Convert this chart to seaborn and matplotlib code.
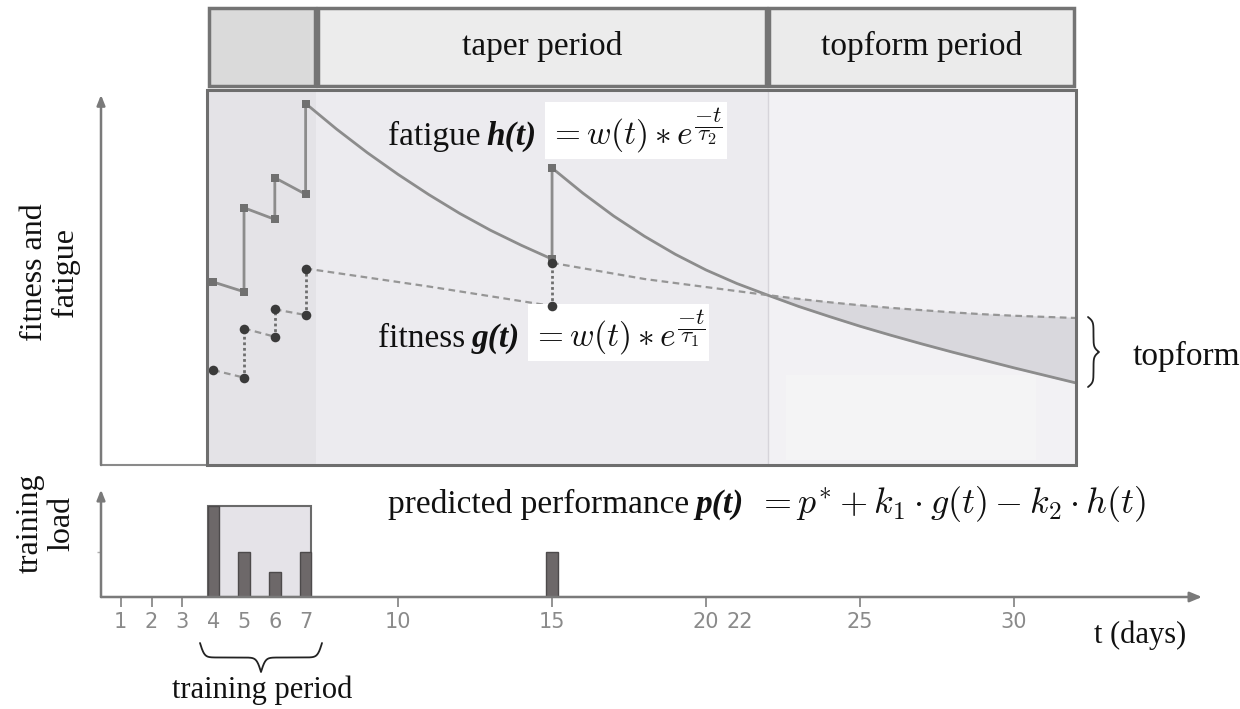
import numpy as np
import pandas as pd
import matplotlib
matplotlib.use("Agg")
import matplotlib.pyplot as plt
from matplotlib.patches import Rectangle
from matplotlib.lines import Line2D
import seaborn as sns

sns.set_theme(style="white")
plt.rcParams["font.family"] = ["Liberation Serif", "DejaVu Serif"]
plt.rcParams["mathtext.fontset"] = "cm"

# training load (relative units) per training day
load_day = [4, 5, 6, 7, 15]
load_val = [1.0, 0.49, 0.27, 0.49, 0.49]

# fatigue h(t): value before/after each load, decay in between
fatigue_day = [4, 5, 5, 6, 6, 7, 7, 8, 9, 10, 11, 12, 13, 14, 15, 15,
               16, 17, 18, 19, 20, 21, 22, 23, 24, 25, 26, 27, 28, 29, 30, 31, 32]
fatigue_val = [48.8, 46.2, 68.6, 65.5, 76.6, 72.2, 96.4, 89.6, 83.3, 77.5, 72.1, 67.1,
               62.6, 58.6, 54.9, 79.2, 72.5, 66.4, 61.0, 56.2, 52.0, 48.4, 45.3, 42.3,
               39.6, 37.0, 34.6, 32.3, 30.1, 28.0, 25.9, 23.9, 21.9]

# fitness g(t)
fitness_day = [4, 5, 5, 6, 6, 7, 7, 11, 15, 15, 18, 22, 23, 24, 25, 26, 27, 28, 29, 30, 31, 32]
fitness_val = [25.3, 23.3, 36.4, 34.2, 41.5, 40.0, 52.4, 47.6, 42.4, 53.9, 49.6, 45.3,
               44.3, 43.4, 42.6, 41.9, 41.3, 40.7, 40.2, 39.8, 39.5, 39.2]

# period boundaries (days): training | taper | topform
period_edges = [3.8, 7.35, 22.0, 32.0]
period_names = ["", "taper period", "topform period"]

tick_pos = [1, 2, 3, 4, 5, 6, 7, 10, 15, 20, 21.1, 25, 30]
tick_lab = ["1", "2", "3", "4", "5", "6", "7", "10", "15", "20", "22", "25", "30"]
no_mark = ["4", "5", "6", "7", "22"]

W, H = 1240, 709
X0, X1 = 0.357, 36.1

fig = plt.figure(figsize=(W / 100, H / 100), dpi=100)
ax = fig.add_axes([101 / W, 1 - 465 / H, 1101 / W, 465 / H])
axb = fig.add_axes([101 / W, 1 - 597 / H, 1101 / W, 127 / H])

# ---- top panel: period regions and headers
region_colors = ["#e4e3e7", "#ecebef", "#f2f1f4"]
header_colors = ["#dadada", "#ececec", "#ebebeb"]
spans = list(zip(period_edges[:-1], period_edges[1:]))
for (a, b), rc, hc, name in zip(spans, region_colors, header_colors, period_names):
    ax.add_patch(Rectangle((a, 0), b - a, 100, fc=rc, ec="none", zorder=0))
    ax.add_patch(Rectangle((a + 0.05, 101), b - a - 0.1, 21, fc=hc, ec="#747474",
                           lw=2.5, zorder=2, clip_on=False))
    if name:
        ax.text((a + b) / 2, 111.5, name, ha="center", va="center", size=24, color="#111")
ax.add_patch(Rectangle((period_edges[2] + 0.6, 1.3), 8.1, 22.7, fc="#f4f4f5", ec="none", zorder=0.5))
ax.vlines(period_edges[2], 0, 100, color="#d6d4da", lw=1, zorder=1)
ax.add_patch(Rectangle((period_edges[0], 0), period_edges[-1] - period_edges[0], 100,
                       fill=False, ec="#6e6e6e", lw=2.2, zorder=6, clip_on=False))
ax.plot([X0, period_edges[0]], [0, 0], color="#8a8a8a", lw=1.5, clip_on=False)

fat = pd.DataFrame({"day": fatigue_day, "val": fatigue_val})
fit = pd.DataFrame({"day": fitness_day, "val": fitness_val})
fit["seg"] = (fit["day"].diff() == 0).cumsum()

# topform area between fitness and fatigue
tail_f = fit[fit.day >= period_edges[2]]
tail_h = fat[fat.day >= period_edges[2]]
ax.fill_between(tail_f.day, tail_f.val, tail_h.val.values, color="#d9d8dd", zorder=1)

sns.lineplot(data=fat, x="day", y="val", estimator=None, sort=False,
             color="#8c8c8c", lw=2, ax=ax, zorder=3)
sns.lineplot(data=fit, x="day", y="val", units="seg", estimator=None, sort=False,
             color="#969696", lw=1.6, linestyle=(0, (3, 2)), ax=ax, zorder=3)
jump = fit["day"].diff() == 0
ax.vlines(fit.day[jump], fit.val.shift(1)[jump], fit.val[jump],
          color="#6e6e6e", lw=2, linestyles=(0, (1, 1)), zorder=3)

sns.scatterplot(data=fat[fat.day.isin(load_day)], x="day", y="val", marker="s",
                s=30, color="#707070", linewidth=0, ax=ax, zorder=5)
sns.scatterplot(data=fit[fit.day.isin(load_day)], x="day", y="val", marker="o",
                s=48, color="#3a3a3a", linewidth=0, ax=ax, zorder=5)

ax.annotate("", xy=(0, 98.7), xytext=(0, 0), xycoords=ax.get_yaxis_transform(),
            textcoords=ax.get_yaxis_transform(), annotation_clip=False,
            arrowprops=dict(arrowstyle="-|>,head_length=0.5,head_width=0.2",
                            color="#7a7a7a", lw=1.8, shrinkA=0, shrinkB=0))
ax.set_xlim(X0, X1)
ax.set_ylim(0, 124)
ax.set_xticks([])
ax.set_yticks([])
ax.set_xlabel("")
ax.set_ylabel("")
for s in ax.spines.values():
    s.set_visible(False)
ax.patch.set_alpha(0)

# ---- bottom panel: training load bars
tr = [d for d in load_day if d <= period_edges[1]]
axb.add_patch(Rectangle((min(tr) - 0.185, 0), max(tr) - min(tr) + 0.37, max(load_val),
                        fc="#e5e3e8", ec="#6a6a6a", lw=1.5, zorder=1))
sns.barplot(x=load_day, y=load_val, native_scale=True, width=0.37, color="#6d6869",
            saturation=1, edgecolor="#4d4a4b", linewidth=1, errorbar=None, ax=axb, zorder=3)
axb.annotate("", xy=(1, 0), xytext=(0, 0), xycoords="axes fraction",
             textcoords="axes fraction", annotation_clip=False,
             arrowprops=dict(arrowstyle="-|>,head_length=0.6,head_width=0.25",
                             color="#7a7a7a", lw=1.8, shrinkA=0, shrinkB=0))
axb.annotate("", xy=(0, 1.18), xytext=(0, 0), xycoords=axb.get_yaxis_transform(),
             textcoords=axb.get_yaxis_transform(), annotation_clip=False,
             arrowprops=dict(arrowstyle="-|>,head_length=0.5,head_width=0.2",
                             color="#7a7a7a", lw=1.8, shrinkA=0, shrinkB=0))
axb.set_xlim(X0, X1)
axb.set_ylim(0, 127 / 91)
axb.set_xticks(tick_pos, tick_lab, family="DejaVu Sans")
axb.tick_params(axis="x", bottom=True, length=7, width=1.3, color="#8a8a8a",
                labelcolor="#8a8a8a", labelsize=15, pad=4)
for t, lab in zip(axb.xaxis.get_major_ticks(), tick_lab):
    if lab in no_mark:
        t.tick1line.set_visible(False)
axb.set_yticks([0.5], [""])
axb.tick_params(axis="y", left=True, length=3, width=1, color="#b0b0b0")
axb.set_xlabel("")
axb.set_ylabel("")
for s in axb.spines.values():
    s.set_visible(False)
axb.patch.set_alpha(0)

# ---- texts
txt = dict(size=24, color="#111")
bold_it = dict(size=24, color="#111", weight="bold", style="italic")
mth = dict(size=24, color="#111")
box = dict(fc="white", ec="none", pad=3)


def text_run(target, x, y, pieces):
    # place text pieces one after another, x/y in figure pixels (y from top)
    r = fig.canvas.get_renderer()
    for s, kw in pieces:
        if s is None:
            x += kw
            continue
        t = target.text(x / W, 1 - y / H, s, ha="left", va="baseline",
                        transform=fig.transFigure, zorder=4, clip_on=False, **kw)
        x += t.get_window_extent(renderer=r).width
    return x


text_run(ax, 388, 145, [("fatigue", txt), (None, 6), ("h(t)", bold_it), (None, 12),
                        (r"$= w(t) \ast e^{\dfrac{-t}{\tau_2}}$", dict(mth, bbox=box))])
text_run(ax, 378, 347, [("fitness", txt), (None, 6), ("g(t)", bold_it), (None, 12),
                        (r"$= w(t) \ast e^{\dfrac{-t}{\tau_1}}$", dict(mth, bbox=box))])
text_run(fig, 388, 513, [("predicted performance", txt), (None, 6), ("p(t)", bold_it), (None, 14),
                         (r"$= p^{*} + k_1 \cdot g(t) - k_2 \cdot h(t)$", dict(mth, size=26))])

fig.text(50 / W, 1 - 272 / H, "fitness and\nfatigue", rotation=90, ha="center",
         va="center", multialignment="center", size=23, linespacing=1.1, color="#111")
fig.text(46 / W, 1 - 523 / H, "training\nload", rotation=90, ha="center",
         va="center", multialignment="center", size=23, linespacing=1.1, color="#111")
fig.text(1133 / W, 1 - 356 / H, "topform", ha="left", va="center", size=24, color="#111")
fig.text(1140 / W, 1 - 635 / H, "t (days)", ha="center", va="center", size=22, color="#111")
fig.text(262 / W, 1 - 690 / H, "training period", ha="center", va="center", size=22, color="#111")


def brace(x0, x1, base, depth, vertical=False, n=200):
    L = abs(x1 - x0)
    half = np.linspace(0, L / 2, n)
    beta = 0.45
    yh = 1 / (1 + np.exp(-beta * half)) + 1 / (1 + np.exp(-beta * (half - L / 2)))
    ys = np.concatenate([yh, yh[-2::-1]]) - 0.5
    xs = np.linspace(x0, x1, len(ys))
    if vertical:
        px, py = base + depth * ys, xs
    else:
        px, py = xs, base + depth * ys
    fig.add_artist(Line2D(px / W, 1 - py / H, transform=fig.transFigure,
                          color="#222", lw=1.3))


brace(200, 322, 643, 29)
brace(317, 387, 1088, 11, vertical=True)

fig.savefig("out.png", dpi=100)
